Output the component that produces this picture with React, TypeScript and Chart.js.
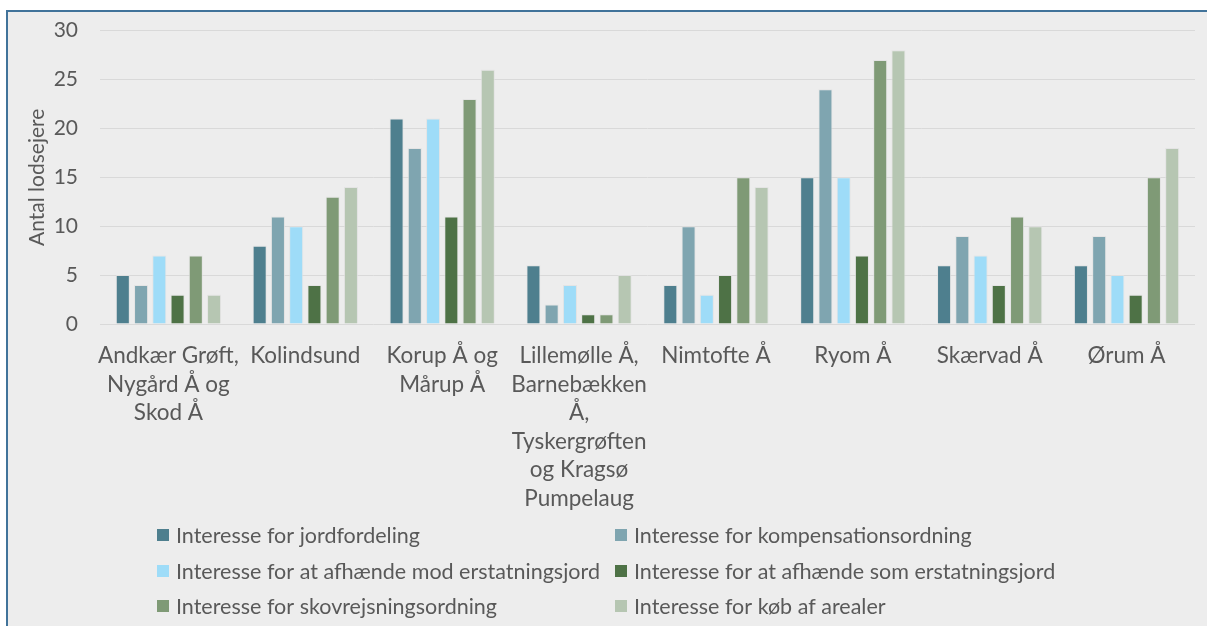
import React, { useEffect, useRef } from "react";
import { Chart, registerables } from "chart.js";

Chart.register(...registerables);

const categories: string[][] = [
  ["Andkær Grøft,", "Nygård Å og", "Skod Å"],
  ["Kolindsund"],
  ["Korup Å og", "Mårup Å"],
  ["Lillemølle Å,", "Barnebækken", "Å,", "Tyskergrøften", "og Kragsø", "Pumpelaug"],
  ["Nimtofte Å"],
  ["Ryom Å"],
  ["Skærvad Å"],
  ["Ørum Å"],
];

const seriesNames = [
  "Interesse for jordfordeling",
  "Interesse for kompensationsordning",
  "Interesse for at afhænde mod erstatningsjord",
  "Interesse for at afhænde som erstatningsjord",
  "Interesse for skovrejsningsordning",
  "Interesse for køb af arealer",
];

const jordfordeling = [5, 8, 21, 6, 4, 15, 6, 6];
const kompensation = [4, 11, 18, 2, 10, 24, 9, 9];
const afhaendeMod = [7, 10, 21, 4, 3, 15, 7, 5];
const afhaendeSom = [3, 4, 11, 1, 5, 7, 4, 3];
const skovrejsning = [7, 13, 23, 1, 15, 27, 11, 15];
const koebAreal = [3, 14, 26, 5, 14, 28, 10, 18];

const yTicks = [0, 5, 10, 15, 20, 25, 30];

const colors = ["#4E7F8E", "#7FA5B0", "#9EDCF8", "#4E7246", "#7F9A76", "#B6C6B2"];

const FONT = "Lato, 'Open Sans', sans-serif";
const TEXT = "#595959";
const SHIFT = 16;

export default function App() {
  const ref = useRef<HTMLCanvasElement | null>(null);

  useEffect(() => {
    if (!ref.current) return;
    const values = [jordfordeling, kompensation, afhaendeMod, afhaendeSom, skovrejsning, koebAreal];

    const legendPlugin = {
      id: "gridLegend",
      afterDraw(chart: any) {
        const ctx = chart.ctx;
        ctx.save();
        ctx.font = `21.5px ${FONT}`;
        ctx.textBaseline = "middle";
        ctx.textAlign = "left";
        const colX = [149, 607];
        const rowY = [523 + SHIFT, 559 + SHIFT, 594 + SHIFT];
        seriesNames.forEach((name, i) => {
          const x = colX[i % 2];
          const y = rowY[Math.floor(i / 2)];
          ctx.fillStyle = colors[i];
          ctx.fillRect(x, y - 6, 12, 12);
          ctx.fillStyle = TEXT;
          ctx.fillText(name, x + 19, y + 1);
        });
        ctx.restore();
      },
    };

    const chart = new Chart(ref.current, {
      type: "bar",
      data: {
        labels: categories,
        datasets: seriesNames.map((name, i) => ({
          label: name,
          data: values[i],
          backgroundColor: colors[i],
          borderColor: "rgba(225,225,225,0.8)",
          borderWidth: 1,
          categoryPercentage: 0.8,
          barPercentage: 0.77,
        })),
      },
      options: {
        animation: false,
        responsive: false,
        maintainAspectRatio: false,
        layout: { padding: { top: 3, right: 12, left: 0, bottom: 0 } },
        plugins: {
          legend: { display: false },
          tooltip: { enabled: false },
        },
        scales: {
          x: {
            grid: { display: false, drawTicks: false },
            border: { display: false },
            ticks: {
              color: TEXT,
              font: { family: FONT, size: 22.5, lineHeight: 1.265 },
              padding: 18,
              maxRotation: 0,
              minRotation: 0,
              autoSkip: false,
            },
            afterFit(scale: any) {
              scale.height = 302;
            },
          },
          y: {
            min: 0,
            max: 30,
            afterBuildTicks(scale: any) {
              scale.ticks = yTicks.map((v) => ({ value: v }));
            },
            grid: { color: "#D9D9D9", lineWidth: 1, drawTicks: false },
            border: { display: false },
            ticks: {
              color: TEXT,
              font: { family: FONT, size: 21 },
              padding: 22,
            },
            title: {
              display: true,
              text: "Antal lodsejere",
              color: TEXT,
              font: { family: FONT, size: 21 },
              padding: { top: 17, bottom: 0 },
            },
            afterFit(scale: any) {
              scale.width = 92;
            },
          },
        },
      },
      plugins: [legendPlugin],
    });
    return () => chart.destroy();
  }, []);

  return (
    <div style={{ position: "fixed", left: 0, top: 0, width: 1207, height: 626, background: "#FFFFFF", overflow: "hidden" }}>
      <div
        style={{
          position: "absolute",
          left: 6,
          top: 10,
          width: 1220,
          height: 640,
          background: "#EDEDED",
          borderLeft: "2px solid #41739A",
          borderTop: "2px solid #41739A",
        }}
      >
        <canvas
          ref={ref}
          width={1199}
          height={614 + SHIFT}
          style={{ position: "absolute", left: 0, top: -SHIFT, display: "block", width: 1199, height: 614 + SHIFT }}
        />
      </div>
    </div>
  );
}
